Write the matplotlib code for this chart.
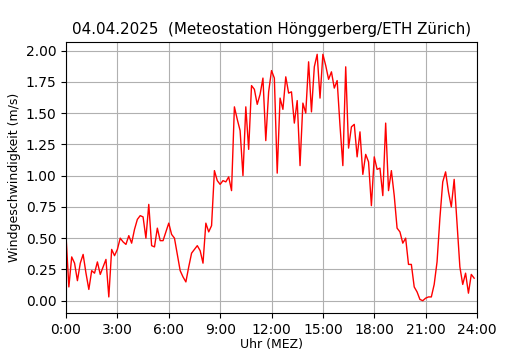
import matplotlib
matplotlib.use("Agg")
import matplotlib.pyplot as plt
import numpy as np

# Wind speed in m/s, 10-minute intervals from 0:00 to 23:50
wind = [
    0.52, 0.11, 0.35, 0.30, 0.16, 0.30, 0.37, 0.22, 0.09, 0.24,
    0.22, 0.31, 0.21, 0.27, 0.33, 0.03, 0.41, 0.36, 0.41, 0.50,
    0.47, 0.45, 0.52, 0.46, 0.57, 0.65, 0.68, 0.67, 0.50, 0.77,
    0.44, 0.43, 0.58, 0.48, 0.48, 0.55, 0.62, 0.53, 0.50, 0.37,
    0.24, 0.19, 0.15, 0.27, 0.38, 0.41, 0.44, 0.40, 0.30, 0.62,
    0.55, 0.60, 1.04, 0.96, 0.93, 0.96, 0.95, 0.99, 0.88, 1.55,
    1.45, 1.36, 1.00, 1.55, 1.21, 1.72, 1.69, 1.57, 1.65, 1.78,
    1.28, 1.67, 1.84, 1.78, 1.02, 1.62, 1.53, 1.79, 1.66, 1.67,
    1.42, 1.60, 1.08, 1.58, 1.50, 1.91, 1.51, 1.87, 1.97, 1.62,
    1.97, 1.88, 1.77, 1.83, 1.70, 1.76, 1.40, 1.08, 1.87, 1.22,
    1.39, 1.41, 1.15, 1.35, 1.01, 1.17, 1.11, 0.76, 1.15, 1.05,
    1.06, 0.84, 1.42, 0.88, 1.04, 0.84, 0.58, 0.55, 0.46, 0.50,
    0.29, 0.29, 0.11, 0.07, 0.01, 0.00, 0.02, 0.03, 0.03, 0.13,
    0.31, 0.66, 0.95, 1.03, 0.87, 0.75, 0.97, 0.62, 0.27, 0.13,
    0.22, 0.06, 0.21, 0.18,
]
hours = [i / 6 for i in range(len(wind))]
tick_hours = [0, 3, 6, 9, 12, 15, 18, 21, 24]
tick_labels = ["0:00", "3:00", "6:00", "9:00", "12:00", "15:00", "18:00", "21:00", "24:00"]

fig = plt.figure(figsize=(5.3, 3.5), dpi=100)
ax = fig.add_axes([66/530, 1 - 313/350, (477-66)/530, (313-42)/350])
ax.plot(hours, wind, color="red", linewidth=1)
ax.set_xlim(0, 24)
ax.set_xticks(tick_hours)
ax.set_xticklabels(tick_labels)
ax.grid(True)
ax.set_xlabel("Uhr (MEZ)", fontsize=9, labelpad=1)
ax.set_ylabel("Windgeschwindigkeit (m/s)", fontsize=9, labelpad=3)
ax.set_title("04.04.2025  (Meteostation Hönggerberg/ETH Zürich)", fontsize=10.9)
fig.savefig("out.png", dpi=100)
